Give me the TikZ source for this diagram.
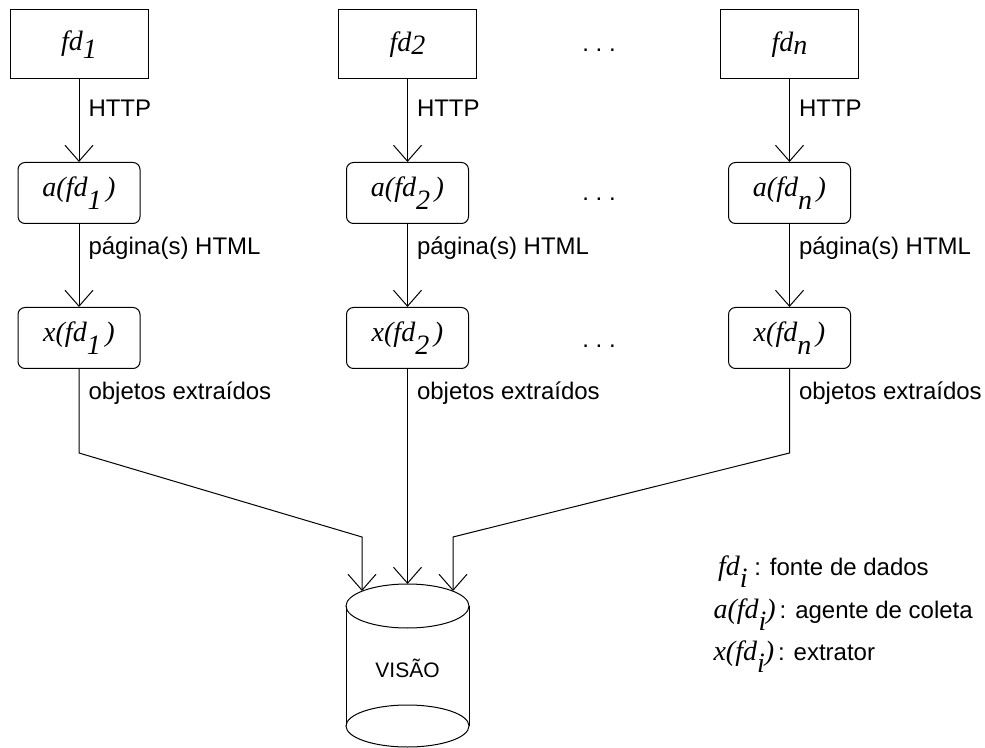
\documentclass[tikz,border=0pt]{standalone}
\usepackage{fontspec}
\setmainfont{Liberation Sans}
\newfontfamily\tms{Liberation Serif}
\usetikzlibrary{arrows.meta}
\newcommand{\mth}[1]{{\tms\itshape\fontsize{14}{16}\selectfont #1}}
\newcommand{\sbs}[2][-0.45em]{\raisebox{#1}{#2}}
\begin{document}
\begin{tikzpicture}[x=0.5pt,y=-0.5pt, line width=0.5pt,
  src/.style={draw, minimum width=69pt, minimum height=34.5pt, inner sep=0pt},
  proc/.style={draw, rounded corners=3.5pt, minimum width=61pt, minimum height=30.5pt, inner sep=0pt},
  lbl/.style={anchor=base west, inner sep=0pt, font=\fontsize{12}{14}\selectfont},
  dots/.style={anchor=base, inner sep=0pt, font=\fontsize{12}{14}\selectfont},
  leg/.style={anchor=base west, inner sep=0pt, font=\fontsize{12}{14}\selectfont},
  arr/.style={-{Straight Barb[length=8pt,width=14pt]}}]
\useasboundingbox (0,0) rectangle (985,748);
% sources
\node[src] (f1) at (79,44.5) {\mth{fd\sbs[-0.3em]{1}}};
\node[src] (f2) at (407.5,44.5) {\mth{fd\sbs[-0.1em]{2}}};
\node[src] (fn) at (789.5,44.5) {\mth{fd\sbs[-0.1em]{n}}};
% agents
\node[proc] (a1) at (79,193) {\mth{a(fd\sbs{1}\,)}};
\node[proc] (a2) at (407.5,193) {\mth{a(fd\sbs{2}\,)}};
\node[proc] (an) at (789.5,193) {\mth{a(fd\sbs{n}\,)}};
% extractors
\node[proc] (x1) at (79,338) {\mth{x(fd\sbs{1}\,)}};
\node[proc] (x2) at (407.5,338) {\mth{x(fd\sbs{2}\,)}};
\node[proc] (xn) at (789.5,338) {\mth{x(fd\sbs{n}\,)}};
% dots
\node[dots] (d1) at (599,52) {.\ .\ .};
\node[dots] (d2) at (599,201) {.\ .\ .};
\node[dots] (d3) at (599,348) {.\ .\ .};
% arrows
\foreach \s/\t in {f1/a1,f2/a2,fn/an,a1/x1,a2/x2,an/xn}{
  \draw[arr] (\s) -- (\t);
}
% labels
\node[lbl] (h1) at (88,117) {HTTP};
\node[lbl] (h2) at (416.5,117) {HTTP};
\node[lbl] (h3) at (798.5,117) {HTTP};
\node[lbl] (p1) at (88,255) {página(s) HTML};
\node[lbl] (p2) at (416.5,255) {página(s) HTML};
\node[lbl] (p3) at (798.5,255) {página(s) HTML};
\node[lbl] (o1) at (88,400) {objetos extraídos};
\node[lbl] (o2) at (416.5,400) {objetos extraídos};
\node[lbl] (o3) at (798.5,400) {objetos extraídos};
% cylinder
\draw (346,606) -- (346,726);
\draw (469,606) -- (469,726);
\draw (407.5,606) ellipse [x radius=61.5, y radius=22];
\draw (407.5,726) ellipse [x radius=61.5, y radius=21];
\node[inner sep=0pt, font=\fontsize{10.5}{12}\selectfont] (visao) at (407.5,668) {VISÃO};
\coordinate (vL) at (362,591);
\coordinate (vM) at (407.5,584);
\coordinate (vR) at (453,591);
\coordinate (bL1) at (79,453);
\coordinate (bL2) at (362,537);
\coordinate (bR1) at (789.5,453);
\coordinate (bR2) at (453,537);
\draw[arr] (x1) -- (bL1) -- (bL2) -- (vL);
\draw[arr] (x2) -- (vM);
\draw[arr] (xn) -- (bR1) -- (bR2) -- (vR);
% legend
\node[leg] (l1) at (713,575) {\mth{\,fd\sbs{i}}\ : fonte de dados};
\node[leg] (l2) at (713,618) {\mth{a(fd\sbs{i})}\,: agente de coleta};
\node[leg] (l3) at (713,660) {\mth{x(fd\sbs{i})}\,: extrator};
\end{tikzpicture}
\end{document}
